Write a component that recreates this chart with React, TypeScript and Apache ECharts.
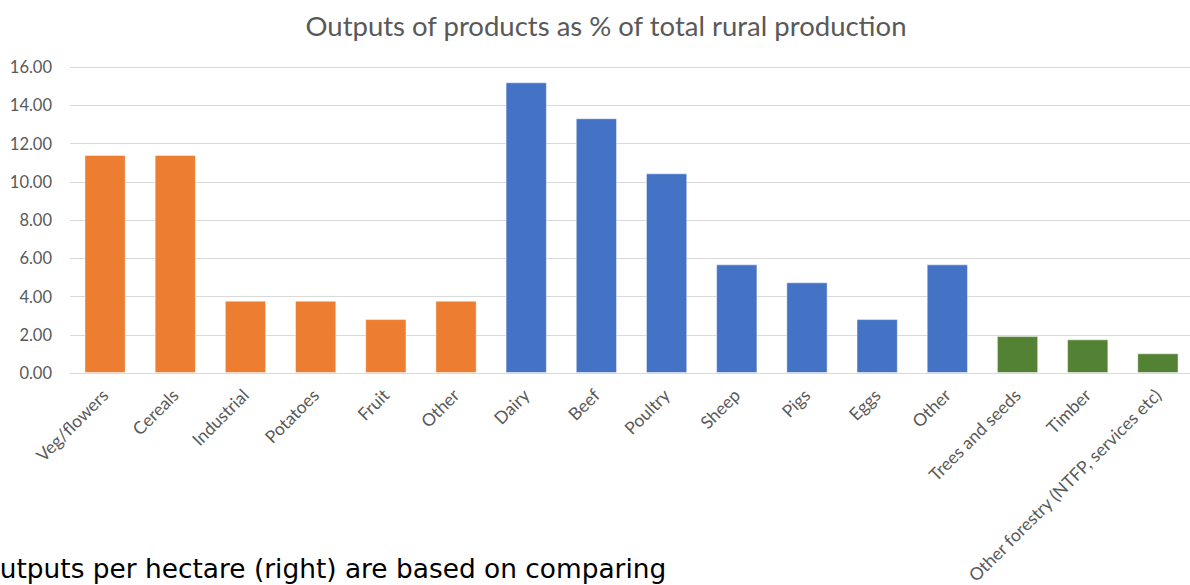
import React, { useEffect, useRef } from "react";
import * as echarts from "echarts";

// Product categories along the x axis
const categories = [
  "Veg/flowers", "Cereals", "Industrial", "Potatoes", "Fruit", "Other",
  "Dairy", "Beef", "Poultry", "Sheep", "Pigs", "Eggs", "Other",
  "Trees and seeds", "Timber", "Other forestry (NTFP, services etc)",
];

// Output share (%) per product, grouped by sector
const cropValues = [11.4, 11.4, 3.78, 3.78, 2.82, 3.78];
const livestockValues = [15.2, 13.32, 10.44, 5.68, 4.74, 2.82, 5.68];
const forestryValues = [1.93, 1.76, 1.03];

const yTicks = { min: 0, max: 16, interval: 2 };

const CROP = "#ED7D31";
const LIVESTOCK = "#4472C4";
const FORESTRY = "#548235";

export default function App() {
  const ref = useRef<HTMLDivElement>(null);

  useEffect(() => {
    if (!ref.current) return;
    const chart = echarts.init(ref.current, undefined, { renderer: "svg" });

    const data = [
      ...cropValues.map((v) => ({ value: v, itemStyle: { color: CROP } })),
      ...livestockValues.map((v) => ({ value: v, itemStyle: { color: LIVESTOCK } })),
      ...forestryValues.map((v) => ({ value: v, itemStyle: { color: FORESTRY } })),
    ];

    chart.setOption({
      animation: false,
      backgroundColor: "#ffffff",
      title: {
        text: "Outputs of products as % of total rural production",
        left: 601,
        top: 6,
        textAlign: "center",
        textStyle: {
          fontFamily: "Lato",
          fontSize: 27.5,
          fontWeight: "normal",
          color: "#595959",
        },
      },
      grid: {
        left: 70,
        top: 67,
        width: 1123,
        height: 306,
        containLabel: false,
        outerBoundsMode: "none",
      },
      xAxis: {
        type: "category",
        data: categories,
        axisLine: { lineStyle: { color: "#D9D9D9", width: 1 } },
        axisTick: { show: false },
        axisLabel: {
          interval: 0,
          rotate: 45,
          margin: 19,
          fontFamily: "Lato",
          fontSize: 17.5,
          color: "#595959",
        },
      },
      yAxis: {
        type: "value",
        min: yTicks.min,
        max: yTicks.max,
        interval: yTicks.interval,
        axisLine: { show: false },
        axisTick: { show: false },
        splitLine: { lineStyle: { color: "#D9D9D9", width: 1 } },
        axisLabel: {
          margin: 18,
          fontFamily: "Lato",
          fontSize: 16.5,
          color: "#595959",
          formatter: (v: number) => v.toFixed(2),
        },
      },
      series: [
        {
          type: "bar",
          data,
          barWidth: "58.8%",
          itemStyle: { borderColor: "rgba(255,255,255,0.45)", borderWidth: 1 },
        },
      ],
      graphic: [
        {
          type: "text",
          left: -21,
          top: 555,
          style: {
            text: "Outputs per hectare (right) are based on comparing",
            fontFamily: "DejaVu Sans",
            fontSize: 26.4,
            fill: "#000000",
          },
        },
      ],
    });

    return () => chart.dispose();
  }, []);

  return (
    <div
      ref={ref}
      style={{ position: "absolute", left: 0, top: 0, width: 1190, height: 585 }}
    />
  );
}
